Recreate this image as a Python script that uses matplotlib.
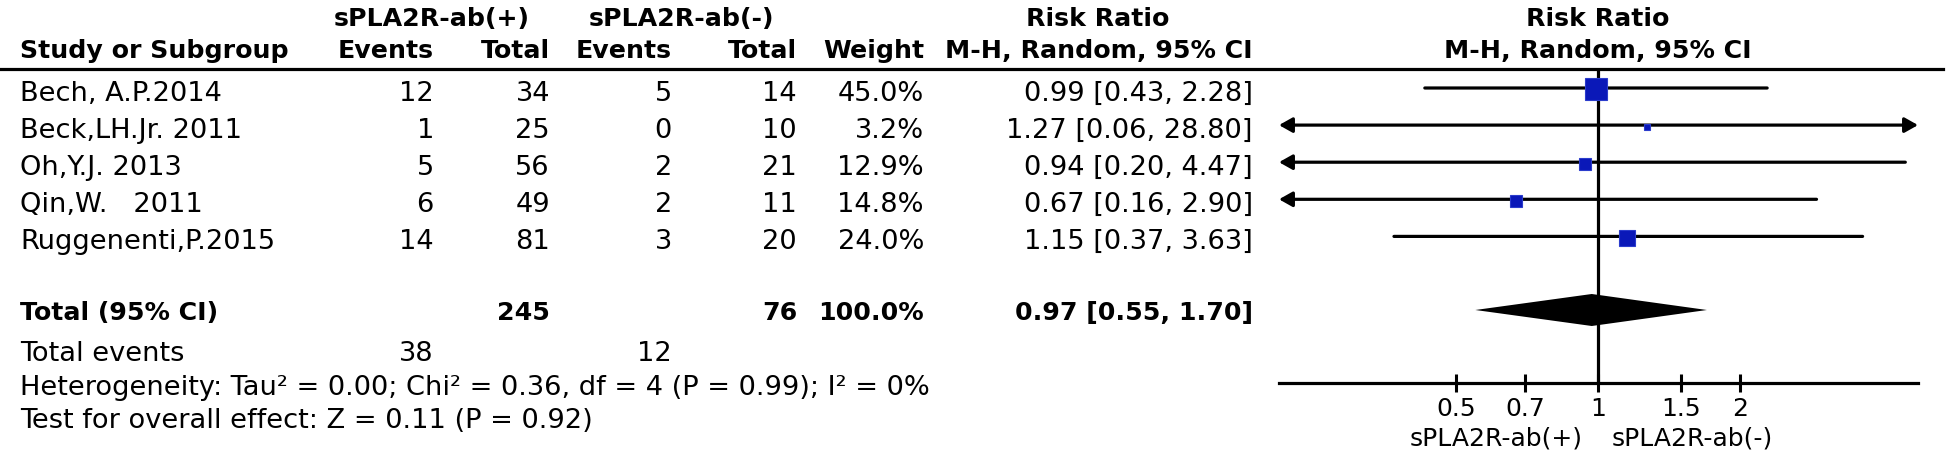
import numpy as np
import matplotlib.pyplot as plt

studies = ["Bech, A.P.2014", "Beck,LH.Jr. 2011", "Oh,Y.J. 2013", "Qin,W.   2011", "Ruggenenti,P.2015"]
ev_pos = [12, 1, 5, 6, 14]
tot_pos = [34, 25, 56, 49, 81]
ev_neg = [5, 0, 2, 2, 3]
tot_neg = [14, 10, 21, 11, 20]
weight = [45.0, 3.2, 12.9, 14.8, 24.0]
rr = [0.99, 1.27, 0.94, 0.67, 1.15]
rr_lo = [0.43, 0.06, 0.20, 0.16, 0.37]
rr_hi = [2.28, 28.80, 4.47, 2.90, 3.63]
tot_rr, tot_lo, tot_hi = 0.97, 0.55, 1.70
tot_n_pos, tot_n_neg = 245, 76
tot_weight = 100.0
tot_ev_pos, tot_ev_neg = 38, 12
ticks = [0.5, 0.7, 1, 1.5, 2]
het_text = "Heterogeneity: Tau\u00b2 = 0.00; Chi\u00b2 = 0.36, df = 4 (P = 0.99); I\u00b2 = 0%"
eff_text = "Test for overall effect: Z = 0.11 (P = 0.92)"

W, H = 1946, 456
fs_txt = 19.6    # table body text
fs_head = 18.2   # bold headers
fs_ax = 18       # forest axis labels
plt.rcParams['font.family'] = 'DejaVu Sans'
fig = plt.figure(figsize=(W / 100, H / 100), dpi=100)

# full-figure axes in pixel units for the table text
bg = fig.add_axes([0, 0, 1, 1])
bg.set_xlim(0, W)
bg.set_ylim(H, 0)
bg.axis('off')

def txt(x, y, s, ha='right', bold=False, size=fs_txt):
    bg.text(x, y, s, ha=ha, va='baseline', fontsize=size,
            fontweight='bold' if bold else 'normal')

# column right edges
c_ep, c_tp, c_en, c_tn, c_w, c_ci = 434, 550, 672, 797, 924, 1253
left = 20

# headers
txt(432, 26, "sPLA2R-ab(+)", 'center', True, fs_head)
txt(681, 26, "sPLA2R-ab(-)", 'center', True, fs_head)
txt(1098, 26, "Risk Ratio", 'center', True, fs_head)
txt(1598, 26, "Risk Ratio", 'center', True, fs_head)
txt(left, 58, "Study or Subgroup", 'left', True, fs_head)
for x, s in zip([c_ep, c_tp, c_en, c_tn, c_w, c_ci],
                ["Events", "Total", "Events", "Total", "Weight", "M-H, Random, 95% CI"]):
    txt(x, 58, s, bold=True, size=fs_head)
txt(1598, 58, "M-H, Random, 95% CI", 'center', True, fs_head)
bg.plot([0, 1943], [70, 70], color='k', lw=2.3)

row_y = 89 + 37.1 * np.arange(len(studies))
for i, y in enumerate(row_y):
    b = y + 12
    txt(left, b, studies[i], 'left')
    txt(c_ep, b, str(ev_pos[i]))
    txt(c_tp, b, str(tot_pos[i]))
    txt(c_en, b, str(ev_neg[i]))
    txt(c_tn, b, str(tot_neg[i]))
    txt(c_w, b, f"{weight[i]:.1f}%")
    txt(c_ci, b, f"{rr[i]:.2f} [{rr_lo[i]:.2f}, {rr_hi[i]:.2f}]")

ty = 311
tb = 320
txt(left, tb, "Total (95% CI)", 'left', True, fs_head)
txt(c_tp, tb, str(tot_n_pos), bold=True, size=fs_head)
txt(c_tn, tb, str(tot_n_neg), bold=True, size=fs_head)
txt(c_w, tb, f"{tot_weight:.1f}%", bold=True, size=fs_head)
txt(c_ci, tb, f"{tot_rr:.2f} [{tot_lo:.2f}, {tot_hi:.2f}]", bold=True, size=fs_head)
txt(left, 361, "Total events", 'left')
txt(c_ep, 361, str(tot_ev_pos))
txt(c_en, 361, str(tot_ev_neg))
txt(left, 395, het_text, 'left')
txt(left, 428, eff_text, 'left')
txt(1583, 446, "sPLA2R-ab(+)", size=fs_ax)
txt(1612, 446, "sPLA2R-ab(-)", 'left', size=fs_ax)

# forest panel
x0, x1, ytop, ybot = 1279, 1918, 70, 384
ax = fig.add_axes([x0 / W, 1 - ybot / H, (x1 - x0) / W, (ybot - ytop) / H])
ax.set_xscale('log')
xmin, xmax = 0.2113, 4.755
ax.set_xlim(xmin, xmax)
ax.set_ylim(ybot, ytop)
ax.patch.set_alpha(0)
for s in ['top', 'left', 'right']:
    ax.spines[s].set_visible(False)
ax.spines['bottom'].set_linewidth(2.3)
ax.set_yticks([])
ax.set_xticks(ticks)
ax.set_xticklabels([f"{t:g}" for t in ticks])
ax.minorticks_off()
ax.tick_params(axis='x', direction='inout', length=13, width=2.2,
               labelsize=fs_ax, pad=3)
ax.axvline(1, color='k', lw=2.3)

for i, y in enumerate(row_y):
    lo = max(rr_lo[i], xmin)
    hi = min(rr_hi[i], xmax)
    left_arrow = rr_lo[i] < xmin
    right_arrow = rr_hi[i] > xmax
    if left_arrow and right_arrow:
        style = '<|-|>'
    elif left_arrow:
        style = '<|-'
    elif right_arrow:
        style = '-|>'
    else:
        style = '-'
    if style != '-':
        style += ',head_length=0.8,head_width=0.45'
    ax.annotate('', xy=(hi, y), xytext=(lo, y),
                arrowprops=dict(arrowstyle=style, color='k', lw=2.3,
                                shrinkA=0, shrinkB=0))
    side = 3.3 * np.sqrt(weight[i]) * 0.72
    ax.plot(rr[i], y + 1.5, 's', ms=side, mfc='#0a18b8', mec='#2b3ccc',
            mew=0.8, zorder=5)

ax.fill([tot_lo, tot_rr, tot_hi, tot_rr], [ty, ty - 16, ty, ty + 16],
        color='k', lw=0, zorder=4)

fig.savefig('out.png', dpi=100)
